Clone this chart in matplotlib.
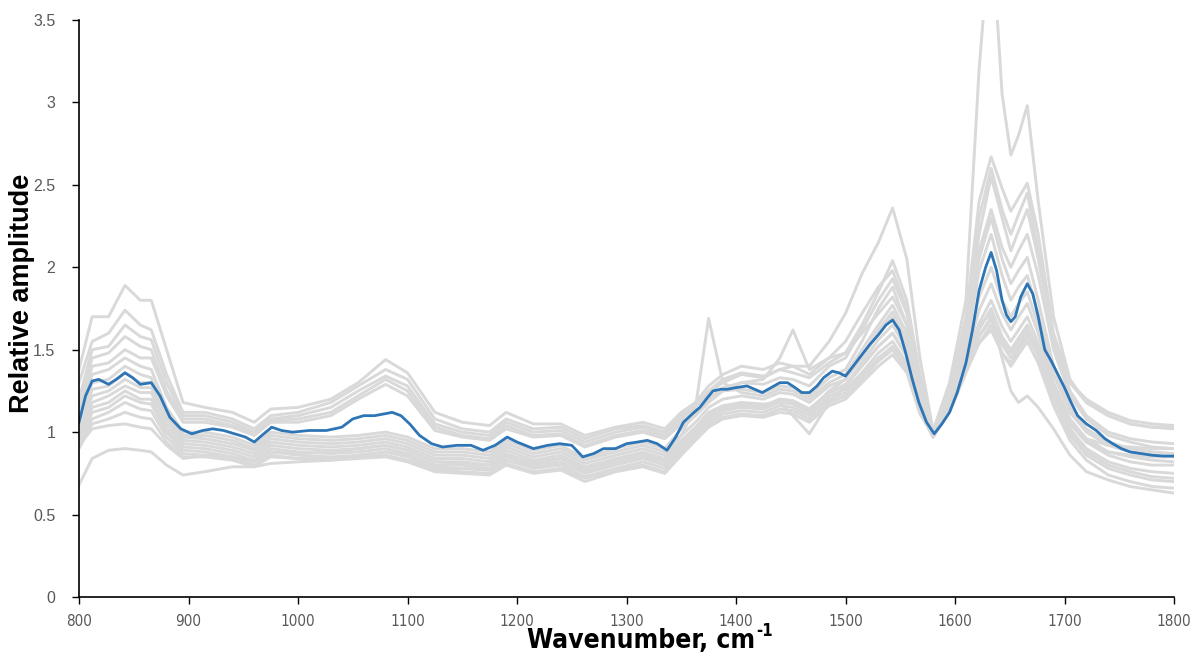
import matplotlib as mpl
import matplotlib.pyplot as plt
from matplotlib.ticker import FuncFormatter, MultipleLocator

mpl.rcParams['font.family'] = 'Liberation Sans'

# wavenumber grid shared by the individual spectra
wn = [800, 812, 827, 842, 856, 866, 880, 895, 915, 940,
      960, 975, 1000, 1030, 1055, 1080, 1100, 1125, 1150, 1175,
      1190, 1215, 1240, 1262, 1290, 1315, 1335, 1350, 1363, 1375,
      1388, 1405, 1425, 1440, 1452, 1467, 1485, 1500, 1515, 1530,
      1543, 1556, 1568, 1580, 1595, 1610, 1622, 1633, 1643, 1651,
      1658, 1666, 1676, 1690, 1705, 1720, 1740, 1760, 1780, 1800]

spec01 = [1.38, 1.70, 1.70, 1.89, 1.80, 1.80, 1.50, 1.18, 1.15, 1.12,
          1.06, 1.14, 1.15, 1.20, 1.30, 1.44, 1.36, 1.12, 1.06, 1.04,
          1.12, 1.05, 1.05, 0.98, 1.03, 1.06, 1.02, 1.12, 1.18, 1.28,
          1.35, 1.40, 1.38, 1.42, 1.40, 1.35, 1.45, 1.48, 1.60, 1.72,
          1.82, 1.65, 1.28, 1.01, 1.22, 1.60, 2.20, 2.55, 2.30, 2.10,
          2.22, 2.35, 2.05, 1.55, 1.30, 1.20, 1.12, 1.07, 1.05, 1.04]
spec02 = [1.30, 1.55, 1.60, 1.74, 1.65, 1.62, 1.35, 1.12, 1.12, 1.08,
          1.02, 1.10, 1.12, 1.18, 1.28, 1.38, 1.32, 1.08, 1.02, 1.00,
          1.08, 1.02, 1.03, 0.96, 1.02, 1.04, 1.00, 1.10, 1.16, 1.25,
          1.32, 1.36, 1.34, 1.38, 1.36, 1.33, 1.42, 1.48, 1.65, 1.85,
          2.04, 1.80, 1.35, 1.00, 1.25, 1.70, 2.40, 2.67, 2.48, 2.34,
          2.42, 2.51, 2.20, 1.60, 1.30, 1.18, 1.10, 1.05, 1.03, 1.02]
spec03 = [1.20, 1.50, 1.52, 1.65, 1.58, 1.56, 1.30, 1.10, 1.10, 1.06,
          1.00, 1.08, 1.10, 1.15, 1.25, 1.34, 1.28, 1.05, 1.00, 0.98,
          1.06, 1.00, 1.01, 0.94, 1.00, 1.03, 0.98, 1.08, 1.15, 1.24,
          1.30, 1.35, 1.33, 1.38, 1.40, 1.40, 1.55, 1.72, 1.96, 2.15,
          2.36, 2.05, 1.45, 1.01, 1.30, 1.80, 3.20, 4.10, 3.05, 2.68,
          2.80, 2.98, 2.40, 1.70, 1.32, 1.18, 1.10, 1.05, 1.03, 1.03]
spec04 = [1.15, 1.45, 1.48, 1.58, 1.52, 1.50, 1.25, 1.08, 1.08, 1.04,
          0.99, 1.07, 1.08, 1.12, 1.22, 1.32, 1.25, 1.03, 0.98, 0.96,
          1.04, 0.98, 0.99, 0.92, 0.98, 1.01, 0.97, 1.06, 1.12, 1.20,
          1.27, 1.30, 1.29, 1.33, 1.32, 1.28, 1.40, 1.45, 1.62, 1.80,
          1.93, 1.72, 1.32, 1.00, 1.22, 1.65, 2.30, 2.60, 2.35, 2.20,
          2.32, 2.45, 2.10, 1.55, 1.25, 1.10, 1.00, 0.96, 0.94, 0.93]
spec05 = [1.10, 1.40, 1.42, 1.50, 1.45, 1.45, 1.22, 1.06, 1.06, 1.03,
          0.98, 1.06, 1.06, 1.10, 1.20, 1.29, 1.22, 1.01, 0.97, 0.95,
          1.02, 0.97, 0.98, 0.91, 0.97, 1.00, 0.96, 1.05, 1.10, 1.18,
          1.25, 1.30, 1.32, 1.45, 1.62, 1.38, 1.45, 1.55, 1.72, 1.88,
          1.98, 1.75, 1.30, 0.99, 1.20, 1.55, 2.10, 2.35, 2.12, 2.00,
          2.10, 2.20, 1.95, 1.50, 1.22, 1.08, 0.98, 0.94, 0.91, 0.90]
spec06 = [1.08, 1.35, 1.38, 1.45, 1.40, 1.38, 1.15, 1.00, 1.00, 0.97,
          0.92, 1.00, 0.98, 0.97, 0.98, 1.00, 0.97, 0.90, 0.90, 0.88,
          0.95, 0.89, 0.92, 0.84, 0.90, 0.94, 0.90, 1.02, 1.10, 1.20,
          1.25, 1.26, 1.24, 1.28, 1.27, 1.22, 1.33, 1.38, 1.55, 1.75,
          1.88, 1.65, 1.25, 0.99, 1.20, 1.55, 2.05, 2.30, 2.05, 1.90,
          1.98, 2.06, 1.80, 1.40, 1.15, 1.02, 0.94, 0.90, 0.88, 0.87]
spec07 = [1.05, 1.30, 1.32, 1.40, 1.35, 1.33, 1.12, 0.98, 0.98, 0.95,
          0.90, 0.98, 0.96, 0.95, 0.96, 0.98, 0.95, 0.88, 0.88, 0.86,
          0.93, 0.87, 0.90, 0.83, 0.88, 0.92, 0.88, 0.98, 1.15, 1.69,
          1.30, 1.24, 1.22, 1.26, 1.25, 1.20, 1.30, 1.35, 1.50, 1.65,
          1.77, 1.60, 1.22, 0.98, 1.18, 1.50, 1.98, 2.20, 1.95, 1.80,
          1.88, 1.95, 1.72, 1.35, 1.12, 1.00, 0.92, 0.88, 0.86, 0.85]
spec08 = [1.02, 1.26, 1.28, 1.36, 1.30, 1.30, 1.10, 0.97, 0.96, 0.93,
          0.89, 0.96, 0.94, 0.93, 0.94, 0.96, 0.93, 0.86, 0.86, 0.84,
          0.91, 0.85, 0.88, 0.81, 0.86, 0.90, 0.86, 0.98, 1.06, 1.15,
          1.20, 1.22, 1.20, 1.24, 1.23, 1.18, 1.28, 1.32, 1.46, 1.62,
          1.73, 1.56, 1.20, 0.98, 1.17, 1.48, 1.82, 2.00, 1.80, 1.70,
          1.78, 1.85, 1.65, 1.30, 1.08, 0.96, 0.88, 0.85, 0.83, 0.82]
spec09 = [1.00, 1.22, 1.25, 1.32, 1.27, 1.27, 1.08, 0.95, 0.94, 0.91,
          0.87, 0.94, 0.92, 0.91, 0.92, 0.94, 0.91, 0.84, 0.84, 0.82,
          0.89, 0.83, 0.86, 0.79, 0.84, 0.88, 0.84, 0.95, 1.03, 1.12,
          1.16, 1.18, 1.17, 1.18, 1.10, 0.99, 1.18, 1.28, 1.42, 1.56,
          1.65, 1.50, 1.18, 0.98, 1.16, 1.45, 1.74, 1.90, 1.72, 1.62,
          1.70, 1.78, 1.60, 1.28, 1.05, 0.94, 0.86, 0.82, 0.80, 0.80]
spec10 = [0.98, 1.18, 1.22, 1.28, 1.24, 1.24, 1.05, 0.93, 0.92, 0.89,
          0.85, 0.92, 0.90, 0.89, 0.90, 0.92, 0.89, 0.82, 0.82, 0.80,
          0.87, 0.81, 0.84, 0.77, 0.82, 0.86, 0.82, 0.93, 1.01, 1.10,
          1.15, 1.17, 1.15, 1.20, 1.19, 1.14, 1.24, 1.28, 1.40, 1.52,
          1.60, 1.46, 1.16, 0.98, 1.15, 1.42, 1.66, 1.80, 1.64, 1.55,
          1.62, 1.70, 1.54, 1.24, 1.02, 0.90, 0.82, 0.78, 0.76, 0.75]
spec11 = [0.96, 1.15, 1.18, 1.25, 1.20, 1.20, 1.02, 0.91, 0.90, 0.87,
          0.83, 0.90, 0.88, 0.87, 0.88, 0.90, 0.87, 0.80, 0.80, 0.78,
          0.85, 0.80, 0.82, 0.75, 0.80, 0.84, 0.80, 0.92, 1.00, 1.08,
          1.13, 1.15, 1.14, 1.18, 1.17, 1.12, 1.22, 1.26, 1.36, 1.48,
          1.55, 1.42, 1.14, 0.97, 1.14, 1.40, 1.62, 1.75, 1.58, 1.50,
          1.57, 1.65, 1.50, 1.22, 1.00, 0.88, 0.80, 0.76, 0.73, 0.72]
spec12 = [0.93, 1.12, 1.15, 1.22, 1.18, 1.17, 1.00, 0.89, 0.88, 0.85,
          0.82, 0.88, 0.86, 0.85, 0.86, 0.88, 0.85, 0.78, 0.78, 0.77,
          0.83, 0.78, 0.80, 0.73, 0.78, 0.82, 0.78, 0.90, 0.98, 1.06,
          1.11, 1.13, 1.12, 1.16, 1.15, 1.10, 1.20, 1.24, 1.34, 1.45,
          1.52, 1.40, 1.13, 0.97, 1.13, 1.38, 1.58, 1.70, 1.53, 1.45,
          1.52, 1.60, 1.46, 1.20, 0.98, 0.86, 0.78, 0.74, 0.71, 0.70]
spec13 = [0.92, 1.08, 1.12, 1.18, 1.14, 1.13, 0.97, 0.87, 0.86, 0.84,
          0.80, 0.86, 0.84, 0.84, 0.85, 0.86, 0.83, 0.77, 0.76, 0.75,
          0.81, 0.76, 0.78, 0.72, 0.77, 0.80, 0.76, 0.88, 0.96, 1.04,
          1.09, 1.11, 1.10, 1.14, 1.13, 1.08, 1.18, 1.22, 1.32, 1.43,
          1.50, 1.38, 1.12, 0.97, 1.12, 1.36, 1.54, 1.65, 1.48, 1.40,
          1.47, 1.55, 1.42, 1.16, 0.95, 0.83, 0.74, 0.70, 0.67, 0.66]
spec14 = [0.90, 1.05, 1.08, 1.12, 1.09, 1.08, 0.94, 0.85, 0.85, 0.83,
          0.79, 0.85, 0.84, 0.83, 0.84, 0.85, 0.82, 0.76, 0.75, 0.74,
          0.80, 0.75, 0.77, 0.70, 0.76, 0.79, 0.75, 0.86, 0.95, 1.03,
          1.08, 1.10, 1.09, 1.12, 1.11, 1.06, 1.16, 1.20, 1.30, 1.40,
          1.47, 1.36, 1.11, 0.98, 1.15, 1.45, 1.65, 1.72, 1.45, 1.25,
          1.18, 1.22, 1.15, 1.02, 0.86, 0.76, 0.71, 0.67, 0.65, 0.63]
spec15 = [0.92, 1.02, 1.04, 1.05, 1.03, 1.02, 0.92, 0.84, 0.86, 0.85,
          0.82, 0.88, 0.87, 0.88, 0.90, 0.92, 0.89, 0.82, 0.81, 0.80,
          0.86, 0.82, 0.84, 0.78, 0.83, 0.87, 0.83, 0.94, 1.02, 1.10,
          1.15, 1.17, 1.16, 1.20, 1.19, 1.14, 1.24, 1.29, 1.40, 1.52,
          1.60, 1.46, 1.15, 0.98, 1.14, 1.40, 1.58, 1.68, 1.55, 1.48,
          1.55, 1.62, 1.50, 1.26, 1.05, 0.94, 0.88, 0.86, 0.85, 0.85]
spec16 = [0.68, 0.84, 0.89, 0.90, 0.89, 0.88, 0.80, 0.74, 0.76, 0.79,
          0.79, 0.81, 0.82, 0.83, 0.86, 0.88, 0.86, 0.79, 0.78, 0.77,
          0.83, 0.79, 0.81, 0.76, 0.81, 0.85, 0.80, 0.92, 1.00, 1.08,
          1.13, 1.16, 1.15, 1.19, 1.18, 1.13, 1.25, 1.32, 1.45, 1.60,
          1.70, 1.52, 1.18, 0.99, 1.14, 1.38, 1.54, 1.62, 1.48, 1.42,
          1.50, 1.58, 1.47, 1.25, 1.06, 0.96, 0.92, 0.91, 0.90, 0.90]

spectra = [spec01, spec02, spec03, spec04, spec05, spec06, spec07, spec08,
           spec09, spec10, spec11, spec12, spec13, spec14, spec15, spec16]

# averaged spectrum, sampled more finely
mean_wn = [800, 806, 812, 818, 827, 834, 842, 849, 856, 866,
           874, 883, 893, 903, 913, 922, 932, 942, 952, 960,
           967, 976, 985, 995, 1010, 1026, 1040, 1050, 1060, 1070,
           1078, 1086, 1094, 1102, 1111, 1122, 1132, 1145, 1158, 1169,
           1180, 1191, 1200, 1215, 1228, 1239, 1250, 1260, 1270, 1279,
           1290, 1300, 1310, 1319, 1328, 1337, 1345, 1352, 1360, 1367,
           1374, 1379, 1386, 1392, 1400, 1410, 1417, 1424, 1432, 1440,
           1447, 1454, 1460, 1467, 1474, 1480, 1488, 1494, 1500, 1507,
           1515, 1522, 1530, 1537, 1543, 1549, 1555, 1561, 1567, 1574,
           1581, 1588, 1595, 1602, 1610, 1616, 1622, 1628, 1633, 1638,
           1643, 1647, 1651, 1655, 1660, 1666, 1671, 1676, 1682, 1688,
           1694, 1700, 1706, 1712, 1720, 1729, 1737, 1744, 1752, 1760,
           1770, 1780, 1790, 1800]
mean_amp = [1.06, 1.22, 1.31, 1.32, 1.29, 1.32, 1.36, 1.33, 1.29, 1.30,
            1.22, 1.09, 1.02, 0.99, 1.01, 1.02, 1.01, 0.99, 0.97, 0.94,
            0.98, 1.03, 1.01, 1.00, 1.01, 1.01, 1.03, 1.08, 1.10, 1.10,
            1.11, 1.12, 1.10, 1.05, 0.98, 0.93, 0.91, 0.92, 0.92, 0.89,
            0.92, 0.97, 0.94, 0.90, 0.92, 0.93, 0.92, 0.85, 0.87, 0.90,
            0.90, 0.93, 0.94, 0.95, 0.93, 0.89, 0.97, 1.06, 1.11, 1.15,
            1.21, 1.25, 1.26, 1.26, 1.27, 1.28, 1.26, 1.24, 1.27, 1.30,
            1.30, 1.27, 1.24, 1.24, 1.28, 1.33, 1.37, 1.36, 1.34, 1.40,
            1.47, 1.53, 1.59, 1.65, 1.68, 1.62, 1.48, 1.32, 1.18, 1.06,
            0.99, 1.05, 1.12, 1.24, 1.42, 1.62, 1.86, 2.00, 2.09, 1.98,
            1.80, 1.71, 1.67, 1.70, 1.82, 1.90, 1.84, 1.70, 1.50, 1.43,
            1.35, 1.27, 1.18, 1.10, 1.05, 1.01, 0.96, 0.93, 0.90, 0.88,
            0.87, 0.86, 0.855, 0.855]

y_ticks = [0, 0.5, 1, 1.5, 2, 2.5, 3, 3.5]

narrow = dict(family='DejaVu Sans', stretch='condensed')

fig = plt.figure(figsize=(11.97, 6.56), dpi=100)
ax = fig.add_axes([79 / 1197, 59 / 656, 1095 / 1197, 577 / 656])

for s in spectra:
    ax.plot(wn, s, color='#d9d9d9', lw=2.1, solid_joinstyle='round')
ax.plot(mean_wn, mean_amp, color='#2e75b6', lw=2.0, solid_joinstyle='round')

ax.set_xlim(800, 1800)
ax.set_ylim(0, 3.5)
ax.xaxis.set_major_locator(MultipleLocator(100))
ax.set_yticks(y_ticks)
ax.yaxis.set_major_formatter(FuncFormatter(lambda v, p: '%g' % v))

for side in ['top', 'right']:
    ax.spines[side].set_visible(False)
for side in ['left', 'bottom']:
    ax.spines[side].set_color('black')
    ax.spines[side].set_linewidth(1.2)

ax.tick_params(axis='y', direction='out', length=5, width=1, color='black',
               labelcolor='#595959', labelsize=11.5, pad=12)
ax.tick_params(axis='x', direction='out', length=5, width=1, color='black',
               labelcolor='#595959', labelsize=11, pad=7)
for lab in ax.get_xticklabels():
    lab.set_family(narrow['family'])
    lab.set_stretch(narrow['stretch'])

ax.set_ylabel('Relative amplitude', fontsize=19.5, fontweight='bold')
ax.yaxis.set_label_coords(-0.040, 0.527)

# x axis title with a raised "-1" after it
xt = fig.text(641 / 1197, 8 / 656, 'Wavenumber, cm', ha='center', va='baseline',
              fontsize=19, fontweight='bold', **narrow)
fig.canvas.draw()
bb = xt.get_window_extent()
fig.text((bb.x1 + 1) / 1197, 20 / 656, '-1', ha='left', va='baseline',
         fontsize=12, fontweight='bold', **narrow)

fig.savefig('out.png', dpi=100)
